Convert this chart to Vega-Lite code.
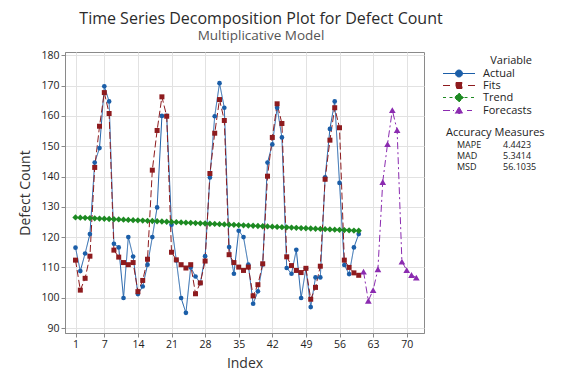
{
  "$schema": "https://vega.github.io/schema/vega-lite/v6.json",
  "width": 359,
  "height": 281,
  "autosize": {"type": "none"},
  "padding": {"left": 65, "top": 52, "right": 152, "bottom": 51},
  "background": "white",
  "title": {
    "text": "Time Series Decomposition Plot for Defect Count",
    "subtitle": "Multiplicative Model",
    "anchor": "middle",
    "dx": 16.5,
    "fontSize": 16,
    "fontWeight": "normal",
    "color": "#2b2b2b",
    "subtitleFontSize": 13.5,
    "subtitleColor": "#555555",
    "subtitlePadding": 2,
    "offset": 8,
    "font": "Open Sans",
    "subtitleFont": "Open Sans"
  },
  "layer": [
    {
      "data": {
        "values": [
          {"Index": 1, "Actual": 116.5, "Fits": 112.4, "Trend": 126.50},
          {"Index": 2, "Actual": 108.8, "Fits": 102.5, "Trend": 126.43},
          {"Index": 3, "Actual": 114.6, "Fits": 106.4, "Trend": 126.35},
          {"Index": 4, "Actual": 121.0, "Fits": 113.7, "Trend": 126.28},
          {"Index": 5, "Actual": 144.6, "Fits": 143.0, "Trend": 126.20},
          {"Index": 6, "Actual": 149.4, "Fits": 156.6, "Trend": 126.13},
          {"Index": 7, "Actual": 169.8, "Fits": 167.7, "Trend": 126.05},
          {"Index": 8, "Actual": 164.8, "Fits": 160.8, "Trend": 125.98},
          {"Index": 9, "Actual": 117.8, "Fits": 115.7, "Trend": 125.90},
          {"Index": 10, "Actual": 116.6, "Fits": 113.4, "Trend": 125.83},
          {"Index": 11, "Actual": 99.9, "Fits": 111.6, "Trend": 125.75},
          {"Index": 12, "Actual": 120.0, "Fits": 110.9, "Trend": 125.68},
          {"Index": 13, "Actual": 113.6, "Fits": 111.6, "Trend": 125.60},
          {"Index": 14, "Actual": 101.2, "Fits": 102.0, "Trend": 125.53},
          {"Index": 15, "Actual": 103.7, "Fits": 105.7, "Trend": 125.46},
          {"Index": 16, "Actual": 110.9, "Fits": 112.7, "Trend": 125.38},
          {"Index": 17, "Actual": 120.0, "Fits": 142.1, "Trend": 125.31},
          {"Index": 18, "Actual": 129.8, "Fits": 155.2, "Trend": 125.23},
          {"Index": 19, "Actual": 160.0, "Fits": 166.3, "Trend": 125.16},
          {"Index": 20, "Actual": 160.0, "Fits": 159.9, "Trend": 125.08},
          {"Index": 21, "Actual": 124.1, "Fits": 115.0, "Trend": 125.01},
          {"Index": 22, "Actual": 112.3, "Fits": 112.5, "Trend": 124.93},
          {"Index": 23, "Actual": 99.9, "Fits": 110.9, "Trend": 124.86},
          {"Index": 24, "Actual": 95.0, "Fits": 109.8, "Trend": 124.78},
          {"Index": 25, "Actual": 110.0, "Fits": 110.9, "Trend": 124.71},
          {"Index": 26, "Actual": 107.0, "Fits": 101.3, "Trend": 124.63},
          {"Index": 27, "Actual": 104.8, "Fits": 104.9, "Trend": 124.56},
          {"Index": 28, "Actual": 113.7, "Fits": 112.1, "Trend": 124.49},
          {"Index": 29, "Actual": 139.7, "Fits": 141.0, "Trend": 124.41},
          {"Index": 30, "Actual": 159.9, "Fits": 154.3, "Trend": 124.34},
          {"Index": 31, "Actual": 170.8, "Fits": 165.4, "Trend": 124.26},
          {"Index": 32, "Actual": 162.7, "Fits": 158.5, "Trend": 124.19},
          {"Index": 33, "Actual": 116.7, "Fits": 114.2, "Trend": 124.11},
          {"Index": 34, "Actual": 107.9, "Fits": 111.6, "Trend": 124.04},
          {"Index": 35, "Actual": 122.1, "Fits": 110.1, "Trend": 123.96},
          {"Index": 36, "Actual": 120.0, "Fits": 109.0, "Trend": 123.89},
          {"Index": 37, "Actual": 110.9, "Fits": 110.1, "Trend": 123.81},
          {"Index": 38, "Actual": 98.0, "Fits": 100.6, "Trend": 123.74},
          {"Index": 39, "Actual": 102.1, "Fits": 104.3, "Trend": 123.66},
          {"Index": 40, "Actual": 111.0, "Fits": 111.2, "Trend": 123.59},
          {"Index": 41, "Actual": 144.6, "Fits": 140.1, "Trend": 123.52},
          {"Index": 42, "Actual": 150.6, "Fits": 152.9, "Trend": 123.44},
          {"Index": 43, "Actual": 162.7, "Fits": 164.0, "Trend": 123.37},
          {"Index": 44, "Actual": 152.9, "Fits": 157.5, "Trend": 123.29},
          {"Index": 45, "Actual": 109.8, "Fits": 113.5, "Trend": 123.22},
          {"Index": 46, "Actual": 107.9, "Fits": 110.6, "Trend": 123.14},
          {"Index": 47, "Actual": 115.8, "Fits": 109.0, "Trend": 123.07},
          {"Index": 48, "Actual": 99.9, "Fits": 108.3, "Trend": 122.99},
          {"Index": 49, "Actual": 109.7, "Fits": 109.7, "Trend": 122.92},
          {"Index": 50, "Actual": 96.9, "Fits": 99.5, "Trend": 122.84},
          {"Index": 51, "Actual": 106.7, "Fits": 103.4, "Trend": 122.77},
          {"Index": 52, "Actual": 106.7, "Fits": 110.4, "Trend": 122.69},
          {"Index": 53, "Actual": 139.7, "Fits": 139.1, "Trend": 122.62},
          {"Index": 54, "Actual": 155.7, "Fits": 152.0, "Trend": 122.55},
          {"Index": 55, "Actual": 164.8, "Fits": 162.7, "Trend": 122.47},
          {"Index": 56, "Actual": 137.9, "Fits": 156.1, "Trend": 122.40},
          {"Index": 57, "Actual": 110.8, "Fits": 112.4, "Trend": 122.32},
          {"Index": 58, "Actual": 107.8, "Fits": 110.0, "Trend": 122.25},
          {"Index": 59, "Actual": 116.6, "Fits": 108.2, "Trend": 122.17},
          {"Index": 60, "Actual": 121.0, "Fits": 107.4, "Trend": 122.10},
          {"Index": 61, "Forecasts": 108.6},
          {"Index": 62, "Forecasts": 99.0},
          {"Index": 63, "Forecasts": 102.5},
          {"Index": 64, "Forecasts": 109.4},
          {"Index": 65, "Forecasts": 138.2},
          {"Index": 66, "Forecasts": 150.7},
          {"Index": 67, "Forecasts": 161.9},
          {"Index": 68, "Forecasts": 155.3},
          {"Index": 69, "Forecasts": 111.9},
          {"Index": 70, "Forecasts": 109.1},
          {"Index": 71, "Forecasts": 107.5},
          {"Index": 72, "Forecasts": 106.6}
        ]
      },
      "transform": [
        {"fold": ["Actual", "Fits", "Trend", "Forecasts"], "as": ["Variable", "Value"]},
        {"filter": "isValid(datum.Value)"}
      ],
      "encoding": {
        "x": {
          "field": "Index",
          "type": "quantitative",
          "scale": {"domain": [-1.19, 73.6], "nice": false, "zero": false},
          "axis": {
            "values": [1, 7, 14, 21, 28, 35, 42, 49, 56, 63, 70],
            "title": "Index",
            "titlePadding": 7
          }
        },
        "y": {
          "field": "Value",
          "type": "quantitative",
          "scale": {"domain": [88.35, 181.1], "nice": false, "zero": false},
          "axis": {
            "values": [90, 100, 110, 120, 130, 140, 150, 160, 170, 180],
            "title": "Defect Count",
            "titlePadding": 8
          }
        },
        "color": {
          "field": "Variable",
          "type": "nominal",
          "scale": {
            "domain": ["Actual", "Fits", "Trend", "Forecasts"],
            "range": ["#1b5ea8", "#8e1b1e", "#1d8a22", "#8b2bb0"]
          },
          "legend": {
            "title": "Variable",
            "orient": "none",
            "legendX": 378,
            "legendY": 3,
            "padding": 0,
            "symbolSize": 100,
            "symbolStrokeWidth": 1,
            "labelOffset": 29,
            "labelFontSize": 11,
            "labelColor": "#222222",
            "titleFontSize": 11,
            "titleFontWeight": "normal",
            "titleColor": "#222222",
            "titleAnchor": "end",
            "titlePadding": 2,
            "rowPadding": 0
          }
        }
      },
      "layer": [
        {
          "mark": {"type": "line", "strokeWidth": 1},
          "encoding": {
            "strokeDash": {
              "field": "Variable",
              "type": "nominal",
              "scale": {
                "domain": ["Actual", "Fits", "Trend", "Forecasts"],
                "range": [[1, 0], [7, 3], [3, 2], [7, 3, 2, 3]]
              },
              "legend": null
            }
          }
        },
        {
          "transform": [{"filter": "datum.Variable === 'Actual'"}],
          "mark": {"type": "point", "filled": true, "opacity": 1, "shape": "circle", "size": 22}
        },
        {
          "transform": [{"filter": "datum.Variable === 'Fits'"}],
          "mark": {"type": "point", "filled": true, "opacity": 1, "shape": "square", "size": 25}
        },
        {
          "transform": [{"filter": "datum.Variable === 'Trend'"}],
          "mark": {"type": "point", "filled": true, "opacity": 1, "shape": "diamond", "size": 40}
        },
        {
          "transform": [{"filter": "datum.Variable === 'Forecasts'"}],
          "mark": {"type": "point", "filled": true, "opacity": 1, "shape": "triangle-up", "size": 45}
        },
        {
          "transform": [{"filter": "datum.Index < 0"}],
          "mark": {"type": "point", "filled": true, "opacity": 1},
          "encoding": {
            "shape": {
              "field": "Variable",
              "type": "nominal",
              "scale": {
                "domain": ["Actual", "Fits", "Trend", "Forecasts"],
                "range": [
                  "M-1.1,0H5.3M1.4,0A0.7,0.7,0,1,0,2.8,0A0.7,0.7,0,1,0,1.4,0Z",
                  "M-1.1,0H0.7M3.9,0H5.3M1.5,-0.6H2.7V0.6H1.5Z",
                  "M-1.1,0H-0.3M0.2,0H1M3.2,0H4M4.5,0H5.3M2.1,-0.9L3,0L2.1,0.9L1.2,0Z",
                  "M-1.1,0H1.1M3.7,0H4.7M2.1,-0.7L2.85,0.6H1.35Z"
                ]
              },
              "legend": {
                "title": "Variable",
                "orient": "none",
                "legendX": 378,
                "legendY": 3,
                "padding": 0,
                "symbolSize": 100,
                "symbolStrokeWidth": 1,
                "labelOffset": 29,
                "labelFontSize": 11,
                "labelColor": "#222222",
                "titleFontSize": 11,
                "titleFontWeight": "normal",
                "titleColor": "#222222",
                "titleAnchor": "end",
                "titlePadding": 2,
                "rowPadding": 0
              }
            }
          }
        }
      ]
    },
    {
      "data": {
        "values": [
          {"Measure": "MAPE", "Value": "4.4423"},
          {"Measure": "MAD", "Value": "5.3414"},
          {"Measure": "MSD", "Value": "56.1035"}
        ]
      },
      "transform": [
        {"fold": ["Measure", "Value"], "as": ["part", "item"]}
      ],
      "mark": {"type": "point"},
      "encoding": {
        "opacity": {
          "field": "item",
          "type": "ordinal",
          "scale": {
            "domain": ["MAPE", "4.4423", "MAD", "5.3414", "MSD", "56.1035"],
            "range": [0, 0]
          },
          "legend": {
            "title": "Accuracy Measures",
            "values": ["MAPE", "4.4423", "MAD", "5.3414", "MSD", "56.1035"],
            "orient": "none",
            "legendX": 381,
            "legendY": 75,
            "padding": 0,
            "direction": "horizontal",
            "columns": 2,
            "columnPadding": 10,
            "symbolSize": 36,
            "symbolStrokeWidth": 0,
            "labelOffset": 2,
            "labelFontSize": 9,
            "labelColor": "#222222",
            "titleFontSize": 11,
            "titleFontWeight": "normal",
            "titleColor": "#222222",
            "titlePadding": 2,
            "rowPadding": 1
          }
        }
      }
    }
  ],
  "config": {
    "font": "Open Sans",
    "view": {"stroke": "#8a8a8a", "strokeWidth": 1},
    "axis": {
      "grid": true,
      "gridColor": "#e2e2e2",
      "gridWidth": 1,
      "domainColor": "#8a8a8a",
      "tickColor": "#8a8a8a",
      "tickSize": 4,
      "labelColor": "#222222",
      "labelFontSize": 10.5,
      "labelPadding": 2,
      "titleColor": "#333333",
      "titleFontSize": 14,
      "titleFontWeight": "normal"
    }
  }
}
